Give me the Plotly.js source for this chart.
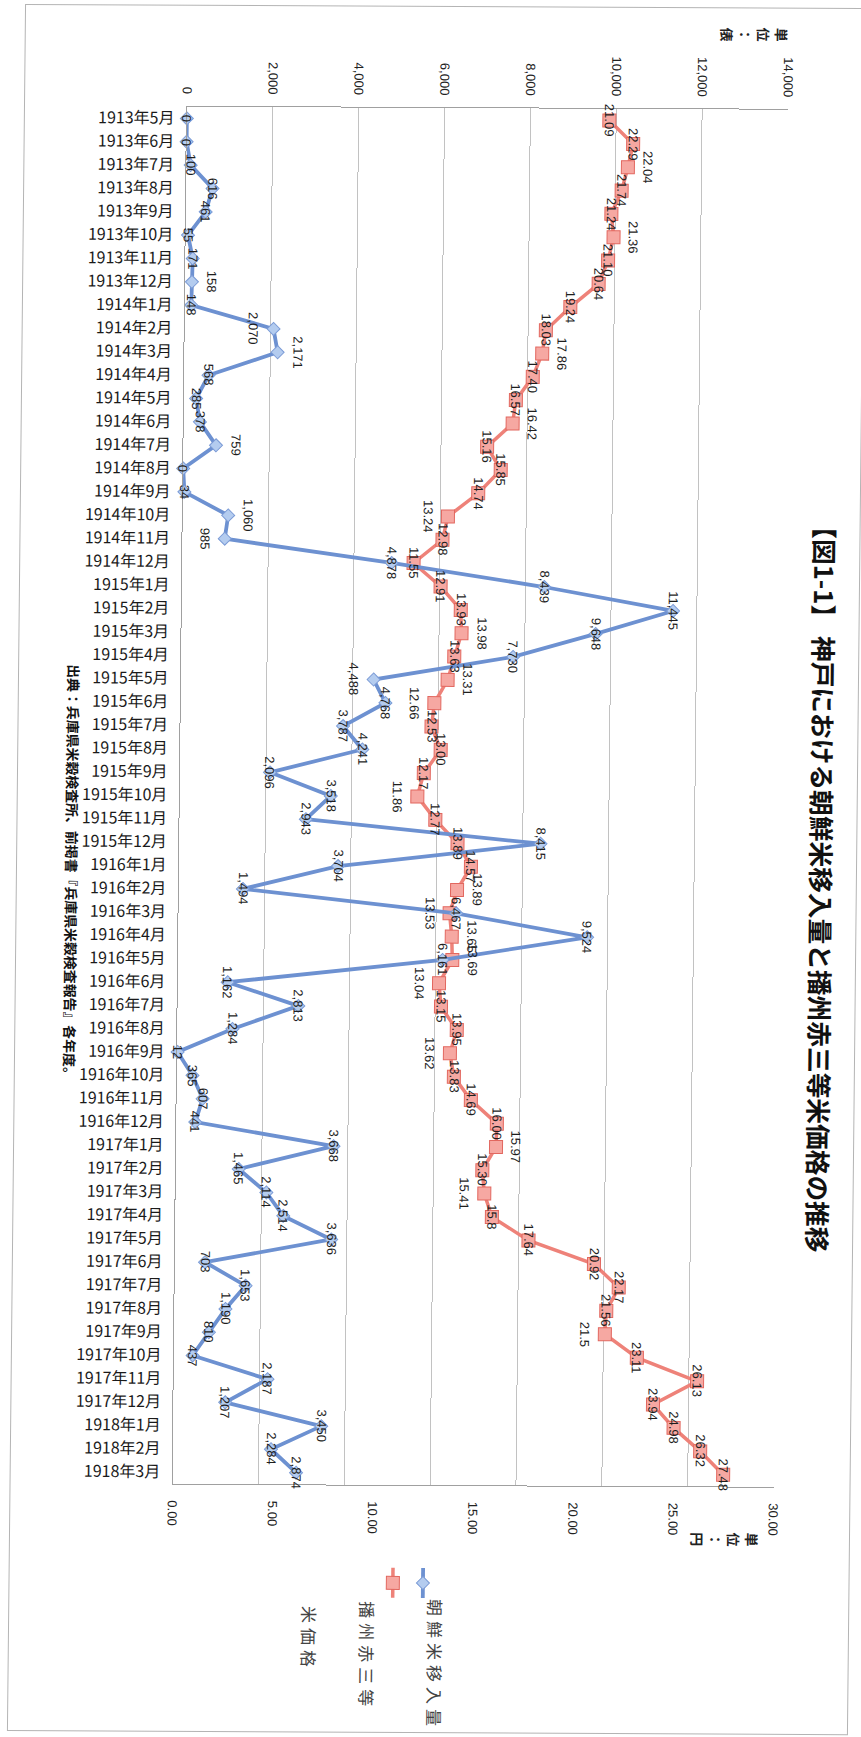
<!DOCTYPE html>
<html>
<head>
<meta charset="utf-8">
<script src="https://cdn.plot.ly/plotly-3.0.1.min.js"></script>
<style>
  html, body { margin: 0; padding: 0; background: #ffffff; }
  body { width: 861px; height: 1737px; overflow: hidden; position: relative; }
  /* the chart is laid out landscape and turned onto the portrait page */
  #sheet {
    position: absolute;
    width: 1737px; height: 861px;
    left: -438px; top: 438px;
    transform-origin: 50% 50%;
    transform: matrix(1, 0.005, -0.0105, 1, 0, 0) rotate(90deg);
    background: #ffffff;
  }
  #frame {
    position: absolute; left: 6px; top: 4px; width: 1727px; height: 841px;
    border: 1px solid #b4b4b4; box-sizing: border-box; pointer-events: none;
  }
  #chart { position: absolute; left: 0; top: 0; width: 1737px; height: 861px; }
  .legend-key .annotation-text { letter-spacing: 5px; }
</style>
</head>
<body>
<div id="sheet">
  <div id="chart"></div>
  <div id="frame"></div>
</div>
<script>
// 月次カテゴリ
const months = [
  '1913年5月','1913年6月','1913年7月','1913年8月','1913年9月','1913年10月','1913年11月','1913年12月',
  '1914年1月','1914年2月','1914年3月','1914年4月','1914年5月','1914年6月','1914年7月','1914年8月',
  '1914年9月','1914年10月','1914年11月','1914年12月',
  '1915年1月','1915年2月','1915年3月','1915年4月','1915年5月','1915年6月','1915年7月','1915年8月',
  '1915年9月','1915年10月','1915年11月','1915年12月',
  '1916年1月','1916年2月','1916年3月','1916年4月','1916年5月','1916年6月','1916年7月','1916年8月',
  '1916年9月','1916年10月','1916年11月','1916年12月',
  '1917年1月','1917年2月','1917年3月','1917年4月','1917年5月','1917年6月','1917年7月','1917年8月',
  '1917年9月','1917年10月','1917年11月','1917年12月',
  '1918年1月','1918年2月','1918年3月'
];

// 朝鮮米移入量（単位：俵）
const importVolume = [
  0, 0, 100, 616, 461, 55, 171, 158,
  148, 2070, 2171, 568, 285, 378, 759, 0, 34, 1060, 985, 4878,
  8439, 11445, 9648, 7730, 4488, 4768, 3787, 4241, 2096, 3518, 2943, 8415,
  3704, 1494, 6467, 9524, 6161, 1162, 2813, 1284, 12, 365, 607, 441,
  3668, 1465, 2114, 2514, 3636, 703, 1653, 1190, 810, 437, 2187, 1207,
  3450, 2284, 2874
];

// 播州赤三等米価格（単位：円）— 表記どおりの数値
const priceText = [
  '21.09', '22.29', '22.04', '21.74', '21.24', '21.36', '21.10', '20.64',
  '19.24', '18.03', '17.86', '17.40', '16.57', '16.42', '15.16', '15.85', '14.74', '13.24', '12.98', '11.55',
  '12.91', '13.93', '13.98', '13.63', '13.31', '12.66', '12.53', '13.00', '12.17', '11.86', '12.77', '13.89',
  '14.57', '13.89', '13.53', '13.65', '13.69', '13.04', '13.15', '13.95', '13.62', '13.83', '14.69', '16.00',
  '15.97', '15.30', '15.41', '15.8', '17.64', '20.92', '22.17', '21.56', '21.5', '23.11', '26.13', '23.94',
  '24.98', '26.32', '27.48'
];
const priceValue = priceText.map(Number);

// 系列名（凡例）
const importName = '朝鮮米移入量';
const priceNameLines = ['播州赤三等', '米価格'];

// データラベルの配置（1: 上, -1: 下, 0: 点の上に重ねる）
const importLabelSide = [
  0, 0, 0, 0, 0, 0, 0, 1,
  0, -1, 1, 0, 0, 0, 1, 0, 0, 1, -1, 0,
  0, 0, 0, 0, -1, 0, 0, 0, 0, 0, 0, 0,
  0, 0, 0, 0, 0, 0, 0, 0, 0, 0, 0, 0,
  0, 0, 0, 0, 0, 0, 0, 0, 0, 0, 0, 0,
  0, 0, 0
];
const priceLabelSide = [
  0, 0, 1, 0, 0, 1, 0, 0,
  0, 0, 1, 0, 0, 1, 0, 0, 0, -1, 0, 0,
  0, 0, 1, 0, 1, -1, 0, 0, 0, -1, 0, 0,
  0, 1, -1, 1, 1, -1, 0, 0, -1, 0, 0, 0,
  1, 0, -1, 0, 0, 0, 0, 0, -1, 0, 0, 0,
  0, 0, 0
];

const W = 1737, H = 861;
const M = { l: 108, r: 252, t: 81, b: 179 };
const PW = W - M.l - M.r, PH = H - M.t - M.b;
// pixel position on the sheet -> paper coordinates
const px = (u) => (u - M.l) / PW;
const py = (v) => (H - M.b - v) / PH;

const JP = '"Noto Sans CJK JP", "Noto Sans", sans-serif';
const NUM = '"Liberation Sans", Arial, sans-serif';
const LABEL_SHIFT = 20;

const priceTrace = {
  type: 'scatter', mode: 'lines+markers',
  x: months, y: priceValue, yaxis: 'y',
  name: '', legendgroup: 'price', legendrank: 2,
  line: { color: '#ee8279', width: 3.5 },
  marker: { symbol: 'square', size: 13, color: '#f6a8a2', line: { color: '#e2675f', width: 1 } },
  cliponaxis: false
};
const importTrace = {
  type: 'scatter', mode: 'lines+markers',
  x: months, y: importVolume, yaxis: 'y2',
  name: '', legendgroup: 'import', legendrank: 1,
  line: { color: '#6d91d1', width: 3.8 },
  marker: { symbol: 'diamond', size: 10, color: '#b4ccef', line: { color: '#7b9bd6', width: 1 } },
  cliponaxis: false
};

const annotations = [];
months.forEach((m, i) => {
  annotations.push({
    xref: 'x', yref: 'y2', x: m, y: importVolume[i],
    text: importVolume[i].toLocaleString('en-US'),
    showarrow: false, xanchor: 'center', yanchor: 'middle',
    yshift: importLabelSide[i] * LABEL_SHIFT,
    font: { family: NUM, size: 13, color: '#1e1e1e' }
  });
  annotations.push({
    xref: 'x', yref: 'y', x: m, y: priceValue[i],
    text: priceText[i],
    showarrow: false, xanchor: 'center', yanchor: 'middle',
    yshift: priceLabelSide[i] * LABEL_SHIFT,
    font: { family: NUM, size: 13, color: '#1e1e1e' }
  });
});

// 軸の単位
annotations.push({
  xref: 'paper', yref: 'paper', x: px(33), y: py(116),
  text: '単<br>位<br>：<br>俵', showarrow: false,
  xanchor: 'center', yanchor: 'middle',
  font: { family: JP, size: 14, color: '#222', weight: 700 }
});
annotations.push({
  xref: 'paper', yref: 'paper', x: px(1538), y: py(129),
  text: '単<br>位<br>：<br>円', showarrow: false,
  xanchor: 'center', yanchor: 'middle',
  font: { family: JP, size: 14, color: '#222', weight: 700 }
});
// 出典
annotations.push({
  xref: 'paper', yref: 'paper', x: px(664), y: py(789),
  text: '出典：兵庫県米穀検査所、前掲書『兵庫県米穀検査報告』各年度。',
  showarrow: false, xanchor: 'left', yanchor: 'middle',
  font: { family: JP, size: 13.9, color: '#111', weight: 700 }
});
// 凡例の系列名
const legendFont = { family: JP, size: 17, color: '#444' };
const legendTexts = [
  { text: importName, v: 418 },
  { text: priceNameLines[0], v: 485 },
  { text: priceNameLines[1], v: 543 }
];
const firstLegendAnno = annotations.length;
legendTexts.forEach((t) => {
  annotations.push({
    xref: 'paper', yref: 'paper', x: px(1612), y: py(t.v),
    text: t.text, showarrow: false, xanchor: 'left', yanchor: 'middle',
    font: legendFont
  });
});

const layout = {
  width: W, height: H,
  margin: { l: M.l, r: M.r, t: M.t, b: M.b, pad: 0, autoexpand: false },
  paper_bgcolor: 'rgba(0,0,0,0)',
  plot_bgcolor: '#ffffff',
  font: { family: JP, color: '#222' },
  title: {
    text: '【図1-1】 神戸における朝鮮米移入量と播州赤三等米価格の推移',
    xref: 'container', yref: 'container',
    x: 881 / W, y: 1 - 41 / H, xanchor: 'center', yanchor: 'middle',
    font: { family: JP, size: 25.7, color: '#111', weight: 700 }
  },
  xaxis: {
    type: 'category', range: [-0.5, months.length - 0.5],
    tickmode: 'array', tickvals: months, ticktext: months,
    tickangle: -90, ticks: '', ticklabelstandoff: 5,
    tickfont: { family: JP, size: 16, color: '#1a1a1a' },
    showgrid: false, zeroline: false,
    showline: true, linecolor: '#a0a0a0', linewidth: 1
  },
  yaxis: {
    side: 'right', range: [0, 30], dtick: 5, tickformat: '.2f',
    ticks: '', ticklabelstandoff: 13,
    tickfont: { family: NUM, size: 13, color: '#222' },
    showgrid: false, zeroline: false,
    showline: true, linecolor: '#a0a0a0', linewidth: 1
  },
  yaxis2: {
    overlaying: 'y', side: 'left', range: [0, 14000], dtick: 2000, tickformat: ',d',
    ticks: '', ticklabelstandoff: 9,
    tickfont: { family: NUM, size: 13, color: '#222' },
    showgrid: true, gridcolor: '#c2c2c2', gridwidth: 1, zeroline: false,
    showline: true, linecolor: '#a0a0a0', linewidth: 1
  },
  showlegend: true,
  legend: {
    x: px(1563), y: py(413), xanchor: 'left', yanchor: 'top',
    traceorder: 'grouped', bgcolor: 'rgba(0,0,0,0)', borderwidth: 0,
    font: { family: JP, size: 17, color: '#444' },
    tracegroupgap: 5, itemwidth: 30
  },
  annotations: annotations
};

Plotly.newPlot('chart', [priceTrace, importTrace], layout, { staticPlot: true, displayModeBar: false })
  .then((gd) => {
    // wide character spacing for the legend names
    const texts = gd.querySelectorAll('.annotation');
    for (let k = firstLegendAnno; k < firstLegendAnno + legendTexts.length; k++) {
      if (texts[k]) texts[k].classList.add('legend-key');
    }
  });
</script>
</body>
</html>
